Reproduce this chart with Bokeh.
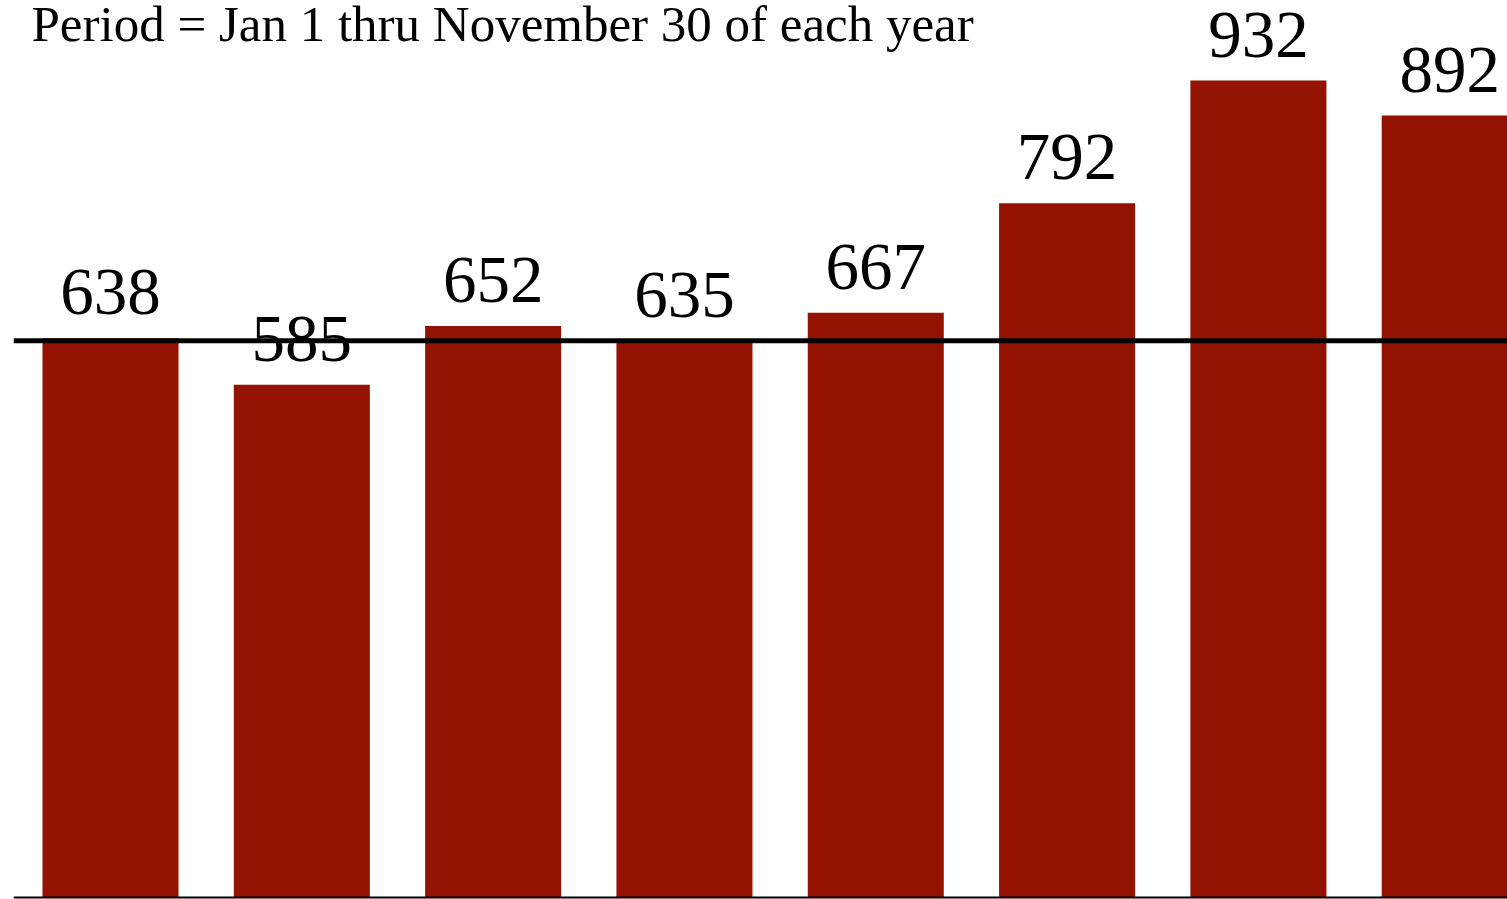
from bokeh.plotting import figure
from bokeh.models import Range1d, Span, Label, ColumnDataSource
from bokeh.core.properties import value
from bokeh.embed import file_html
from bokeh.resources import INLINE

# Data
bar_index = [0, 1, 2, 3, 4, 5, 6, 7]
counts = [638, 585, 652, 635, 667, 792, 932, 892]
count_labels = [str(v) for v in counts]
reference_level = 635
title_text = "Period = Jan 1 thru November 30 of each year"

BAR_COLOR = "#931300"
FONT = "Liberation Serif"

src = ColumnDataSource(dict(x=bar_index, top=counts, label=count_labels))

p = figure(width=1507, height=899, output_backend="svg", toolbar_location=None,
           x_axis_type=None, y_axis_type=None,
           x_range=Range1d(-0.507, 7.302), y_range=Range1d(-2.28, 1023.3),
           min_border_left=13, min_border_right=0, min_border_top=0, min_border_bottom=0)
p.outline_line_color = None
p.grid.visible = False
p.background_fill_color = "white"
p.border_fill_color = "white"

p.vbar(x="x", top="top", width=0.711, bottom=0, source=src,
       fill_color=BAR_COLOR, line_color=None)

p.add_layout(Span(location=reference_level, dimension="width",
                  line_color="black", line_width=5))
p.add_layout(Span(location=0, dimension="width",
                  line_color="black", line_width=2))

p.text(x="x", y="top", text="label", source=src, y_offset=-46,
       text_align="center", text_baseline="alphabetic",
       text_font=value(FONT), text_font_size="67px", text_color="black")

p.add_layout(Label(x=18, y=876, x_units="screen", y_units="screen",
                   text=title_text, text_font=FONT, text_font_size="51px",
                   text_color="black", text_baseline="alphabetic",
                   text_align="left"))

open("out.html", "w").write(file_html(p, INLINE))
